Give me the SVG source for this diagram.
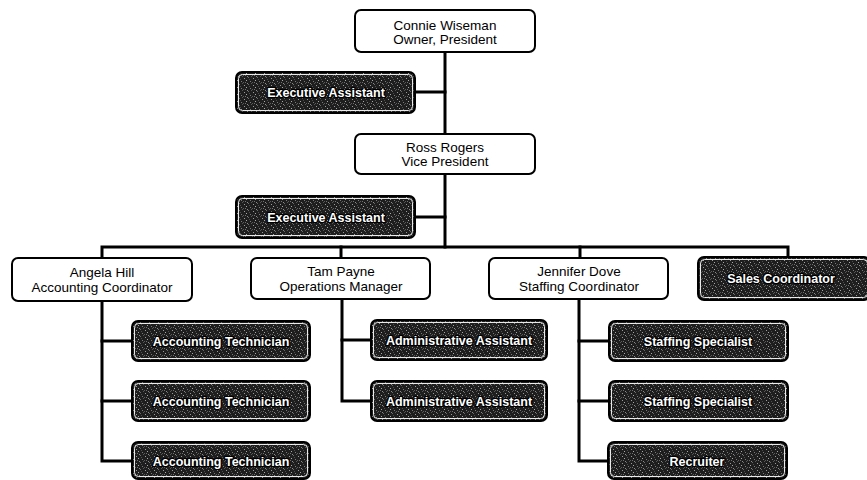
<svg xmlns="http://www.w3.org/2000/svg" width="867" height="480" viewBox="0 0 867 480">
<style>
  .wbox { fill: #ffffff; stroke: #000000; stroke-width: 2; }
  .dbox { fill: url(#grain); stroke: #000000; stroke-width: 2; }
  .dinner { fill: none; stroke: #ffffff; stroke-width: 1; opacity: 0.9; }
  .wtxt { font-family: "Liberation Sans", Arial, sans-serif; font-size: 13.5px; fill: #000000; text-anchor: middle; }
  .dtxt { font-family: "Liberation Sans", Arial, sans-serif; font-size: 12.5px; font-weight: bold; fill: #ffffff; stroke: #000000; stroke-width: 2.5px; paint-order: stroke; stroke-linejoin: round; text-anchor: middle; }
  .conn { fill: none; stroke: #000000; stroke-width: 3; stroke-linecap: square; }
</style>
<defs>
  <pattern id="grain" width="9" height="7" patternUnits="userSpaceOnUse">
    <rect width="9" height="7" fill="#1e1e1e"/>
    <rect x="1" y="1" width="1" height="1" fill="#9a9a9a"/>
    <rect x="5" y="0" width="1" height="1" fill="#6a6a6a"/>
    <rect x="3" y="3" width="1" height="1" fill="#a8a8a8"/>
    <rect x="7" y="4" width="1" height="1" fill="#7a7a7a"/>
    <rect x="0" y="5" width="1" height="1" fill="#5a5a5a"/>
    <rect x="6" y="2" width="1" height="1" fill="#4c4c4c"/>
    <rect x="4" y="6" width="1" height="1" fill="#8a8a8a"/>
    <rect x="8" y="6" width="1" height="1" fill="#555555"/>
    <rect x="2" y="5" width="1" height="1" fill="#707070"/>
  </pattern>
</defs>
<rect width="867" height="480" fill="#ffffff"/>

<g id="connectors">
  <path class="conn" d="M445,52 V134"/>
  <path class="conn" d="M415,92 H445"/>
  <path class="conn" d="M445,174 V247"/>
  <path class="conn" d="M415,217 H445"/>
  <path class="conn" d="M102,258 V247 H788 V257"/>
  <path class="conn" d="M341,247 V258"/>
  <path class="conn" d="M580,247 V258"/>
  <path class="conn" d="M102,301 V461 H132"/>
  <path class="conn" d="M102,341 H132"/>
  <path class="conn" d="M102,401 H132"/>
  <path class="conn" d="M342,299 V401 H371"/>
  <path class="conn" d="M342,340 H371"/>
  <path class="conn" d="M579,299 V461 H608"/>
  <path class="conn" d="M579,341 H609"/>
  <path class="conn" d="M579,401 H609"/>
</g>

<g id="connie">
  <rect class="wbox" x="355" y="10" width="180" height="42" rx="6"/>
  <text class="wtxt" x="445" y="30">Connie Wiseman</text>
  <text class="wtxt" x="445" y="44">Owner, President</text>
</g>
<g id="exec1">
  <rect class="dbox" x="236" y="72" width="179" height="41" rx="6"/>
  <rect class="dinner" x="238.5" y="74.5" width="174" height="36" rx="4"/>
  <text class="dtxt" x="326" y="96.5">Executive Assistant</text>
</g>
<g id="ross">
  <rect class="wbox" x="355" y="134" width="180" height="40" rx="6"/>
  <text class="wtxt" x="445" y="152">Ross Rogers</text>
  <text class="wtxt" x="445" y="166">Vice President</text>
</g>
<g id="exec2">
  <rect class="dbox" x="236" y="196" width="179" height="42" rx="6"/>
  <rect class="dinner" x="238.5" y="198.5" width="174" height="37" rx="4"/>
  <text class="dtxt" x="326" y="221.5">Executive Assistant</text>
</g>
<g id="angela">
  <rect class="wbox" x="12" y="258" width="180" height="43" rx="6"/>
  <text class="wtxt" x="102" y="277">Angela Hill</text>
  <text class="wtxt" x="102" y="292">Accounting Coordinator</text>
</g>
<g id="tam">
  <rect class="wbox" x="251" y="258" width="179" height="41" rx="6"/>
  <text class="wtxt" x="341" y="276">Tam Payne</text>
  <text class="wtxt" x="341" y="291">Operations Manager</text>
</g>
<g id="jennifer">
  <rect class="wbox" x="489" y="258" width="179" height="41" rx="6"/>
  <text class="wtxt" x="579" y="276">Jennifer Dove</text>
  <text class="wtxt" x="579" y="291">Staffing Coordinator</text>
</g>
<g id="sales">
  <rect class="dbox" x="698" y="257" width="172" height="43" rx="6"/>
  <rect class="dinner" x="700.5" y="259.5" width="167" height="38" rx="4"/>
  <text class="dtxt" x="781" y="283">Sales Coordinator</text>
</g>
<g id="acct1">
  <rect class="dbox" x="132" y="321" width="178" height="40" rx="6"/>
  <rect class="dinner" x="134.5" y="323.5" width="173" height="35" rx="4"/>
  <text class="dtxt" x="221" y="345.5">Accounting Technician</text>
</g>
<g id="acct2">
  <rect class="dbox" x="132" y="381" width="178" height="40" rx="6"/>
  <rect class="dinner" x="134.5" y="383.5" width="173" height="35" rx="4"/>
  <text class="dtxt" x="221" y="405.5">Accounting Technician</text>
</g>
<g id="acct3">
  <rect class="dbox" x="132" y="442" width="178" height="37" rx="6"/>
  <rect class="dinner" x="134.5" y="444.5" width="173" height="32" rx="4"/>
  <text class="dtxt" x="221" y="465.5">Accounting Technician</text>
</g>
<g id="admin1">
  <rect class="dbox" x="371" y="320" width="176" height="40" rx="6"/>
  <rect class="dinner" x="373.5" y="322.5" width="171" height="35" rx="4"/>
  <text class="dtxt" x="459" y="344.5">Administrative Assistant</text>
</g>
<g id="admin2">
  <rect class="dbox" x="371" y="381" width="176" height="40" rx="6"/>
  <rect class="dinner" x="373.5" y="383.5" width="171" height="35" rx="4"/>
  <text class="dtxt" x="459" y="405.5">Administrative Assistant</text>
</g>
<g id="staff1">
  <rect class="dbox" x="609" y="321" width="179" height="40" rx="6"/>
  <rect class="dinner" x="611.5" y="323.5" width="174" height="35" rx="4"/>
  <text class="dtxt" x="698" y="345.5">Staffing Specialist</text>
</g>
<g id="staff2">
  <rect class="dbox" x="609" y="381" width="179" height="40" rx="6"/>
  <rect class="dinner" x="611.5" y="383.5" width="174" height="35" rx="4"/>
  <text class="dtxt" x="698" y="405.5">Staffing Specialist</text>
</g>
<g id="recruiter">
  <rect class="dbox" x="608" y="442" width="179" height="37" rx="6"/>
  <rect class="dinner" x="610.5" y="444.5" width="174" height="32" rx="4"/>
  <text class="dtxt" x="697" y="465.5">Recruiter</text>
</g>
</svg>
